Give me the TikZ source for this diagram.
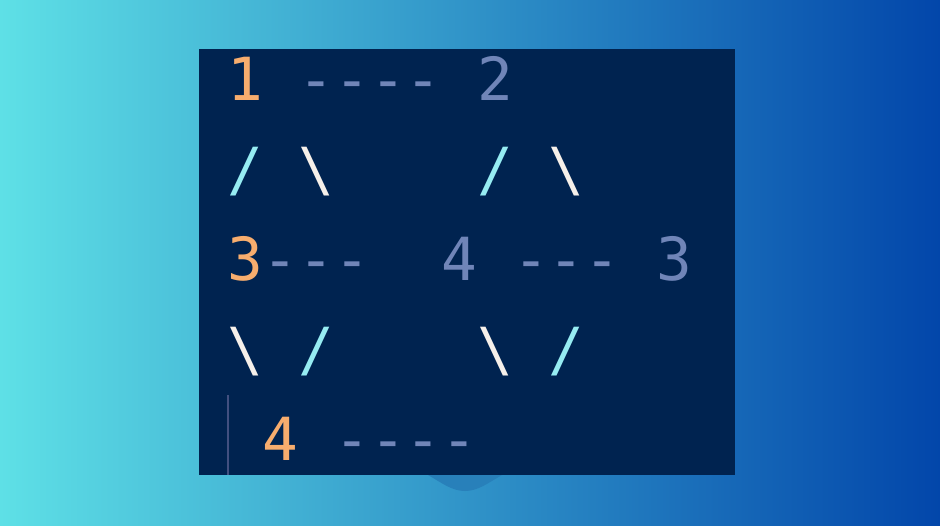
\documentclass[tikz,border=0pt]{standalone}
\usepackage{fontspec}
\setmonofont{DejaVu Sans Mono}
\definecolor{bgleft}{RGB}{94,224,230}
\definecolor{bgmid}{RGB}{52,152,206}
\definecolor{bgright}{RGB}{2,70,170}
\definecolor{panel}{RGB}{0,35,80}
\definecolor{tabc}{RGB}{40,128,186}
\definecolor{numo}{RGB}{247,173,110}
\definecolor{numg}{RGB}{112,133,184}
\definecolor{fslash}{RGB}{150,236,242}
\definecolor{bslash}{RGB}{246,240,234}
\definecolor{guide}{RGB}{66,80,128}
\newcommand{\cdOr}[1]{\textcolor{numo}{#1}}
\newcommand{\cdGr}[1]{\textcolor{numg}{#1}}
\newcommand{\cdFs}{\textcolor{fslash}{/}}
\newcommand{\cdBs}{\textcolor{bslash}{\textbackslash}}
\begin{document}
\begin{tikzpicture}[x=1pt,y=-1pt,
  codeline/.style={anchor=base west,inner sep=0pt,outer sep=0pt,
    font=\ttfamily\fontsize{59.4}{72}\selectfont}]
\useasboundingbox (0,0) rectangle (940,525);
\fill[left color=bgleft,middle color=bgmid,right color=bgright] (0,0) rectangle (940,525);
\fill[tabc] (428,475) .. controls (442,483) and (452,491) .. (465,491)
  .. controls (478,491) and (488,483) .. (502,475) -- cycle;
\fill[panel] (199,49) rectangle (735,475);
\draw[guide,line width=2.4pt] (228,395) -- (228,475);
\node[codeline] (l1) at (227,100) {\cdOr{1}~\cdGr{----}~\cdGr{2}};
\node[codeline] (l2) at (227,190) {\cdFs~\cdBs~~~~\cdFs~\cdBs};
\node[codeline] (l3) at (227,280) {\cdOr{3}\cdGr{---}~~\cdGr{4}~\cdGr{---}~\cdGr{3}};
\node[codeline] (l4) at (227,370) {\cdBs~\cdFs~~~~\cdBs~\cdFs};
\node[codeline] (l5) at (227,460) {~\cdOr{4}~\cdGr{----}};
\end{tikzpicture}
\end{document}
